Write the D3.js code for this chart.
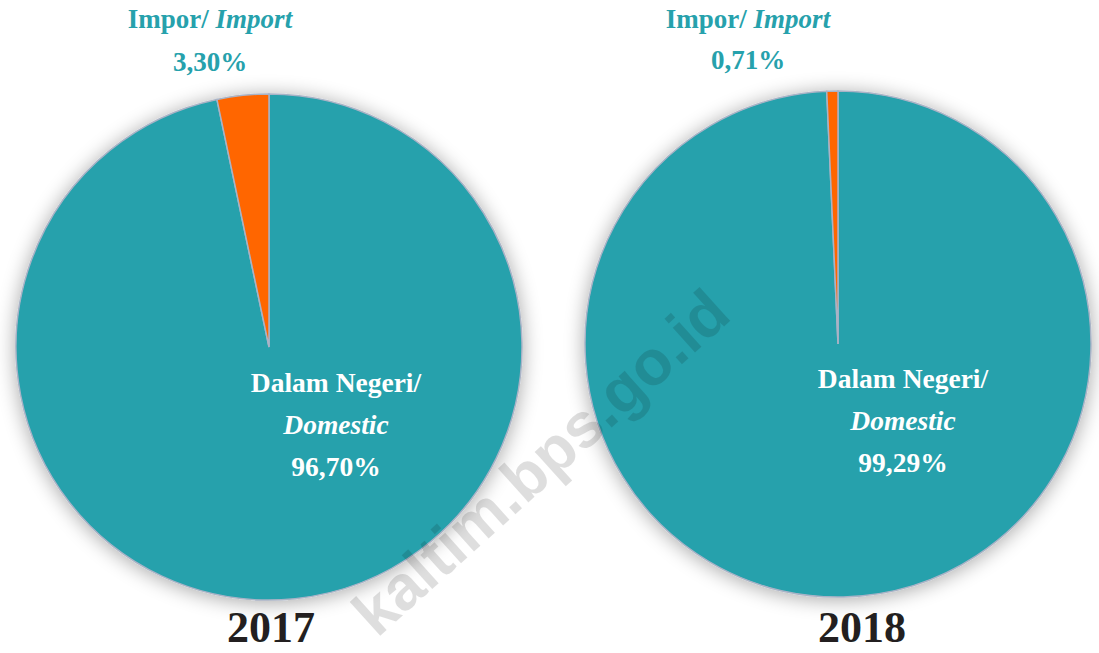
<!DOCTYPE html>
<html>
<head>
<meta charset="utf-8">
<script src="https://cdn.jsdelivr.net/npm/d3@7"></script>
<style>
html,body{margin:0;padding:0;background:#fff;}
svg{display:block;}
</style>
</head>
<body>
<svg id="chart" width="1099" height="653"></svg>
<script>
const years = ["2017", "2018"];
const categories = ["Dalam Negeri", "Impor"];
const categoriesEn = ["Domestic", "Import"];
const values2017 = [96.70, 3.30];
const values2018 = [99.29, 0.71];
const seriesValues = [values2017, values2018];
const colors = ["#26A1AC", "#FF6600"];

const svg = d3.select("#chart");

const defs = svg.append("defs");
const f = defs.append("filter").attr("id","shadow").attr("x","-20%").attr("y","-20%").attr("width","140%").attr("height","140%");
f.append("feGaussianBlur").attr("in","SourceAlpha").attr("stdDeviation",10).attr("result","b");
f.append("feOffset").attr("in","b").attr("dx",0).attr("dy",2).attr("result","o");
f.append("feComponentTransfer").attr("in","o").attr("result","s")
  .append("feFuncA").attr("type","linear").attr("slope",0.35);
const m = f.append("feMerge");
m.append("feMergeNode").attr("in","s");
m.append("feMergeNode").attr("in","SourceGraphic");

const centers = [{x:269, y:347}, {x:838, y:344}];
const radius = 253;

const pie = d3.pie().sort(null).startAngle(0).endAngle(2*Math.PI);
const arc = d3.arc().innerRadius(0).outerRadius(radius);
const fmt = v => d3.format(".2f")(v).replace(".", ",") + "%";

const serif = "'Liberation Serif','DejaVu Serif',serif";

const impLabelPos = [{dx:-59, y1:28, y2:71}, {dx:-90, y1:28, y2:69}];
const domLabelPos = [{dx:67, y:392}, {dx:65, y:388}];
const yearPos = [{dx:2, y:642}, {dx:24, y:642}];

seriesValues.forEach((vals, i) => {
  const c = centers[i];
  const g = svg.append("g").attr("transform", `translate(${c.x},${c.y})`);
  const gp = g.append("g").attr("filter","url(#shadow)");
  gp.selectAll("path").data(pie(vals)).enter().append("path")
    .attr("d", arc)
    .attr("fill", (d, k) => colors[k])
    .attr("stroke", "#a9b3c6")
    .attr("stroke-width", 1.5);

  const ip = impLabelPos[i];
  const t1 = svg.append("text").attr("x", c.x + ip.dx).attr("y", ip.y1)
    .attr("text-anchor","middle").attr("font-family", serif).attr("font-weight","bold")
    .attr("font-size", 27).attr("fill", "#26A1AC");
  t1.append("tspan").text(categories[1] + "/ ");
  t1.append("tspan").attr("font-style","italic").text(categoriesEn[1]);
  svg.append("text").attr("x", c.x + ip.dx).attr("y", ip.y2)
    .attr("text-anchor","middle").attr("font-family", serif).attr("font-weight","bold")
    .attr("font-size", 27).attr("fill", "#26A1AC").text(fmt(vals[1]));

  const dp = domLabelPos[i];
  const lg = svg.append("g").attr("font-family", serif).attr("font-weight","bold")
    .attr("font-size", 27.5).attr("fill", "#fff").attr("text-anchor","middle");
  lg.append("text").attr("x", c.x + dp.dx).attr("y", dp.y).text(categories[0] + "/");
  lg.append("text").attr("x", c.x + dp.dx).attr("y", dp.y + 42).attr("font-style","italic").text(categoriesEn[0]);
  lg.append("text").attr("x", c.x + dp.dx).attr("y", dp.y + 84).text(fmt(vals[0]));

  svg.append("text").attr("x", c.x + yearPos[i].dx).attr("y", yearPos[i].y)
    .attr("text-anchor","middle").attr("font-family", serif).attr("font-weight","bold")
    .attr("font-size", 44).attr("fill", "#231f20").text(years[i]);
});

svg.append("text")
  .attr("transform", "translate(544,466) rotate(-42)")
  .attr("text-anchor","middle").attr("dominant-baseline","middle")
  .attr("font-family","'Liberation Sans','DejaVu Sans',sans-serif").attr("font-weight","bold")
  .attr("font-size", 63).attr("fill", "#000").attr("fill-opacity", 0.13)
  .text("kaltim.bps.go.id");
</script>
</body>
</html>
